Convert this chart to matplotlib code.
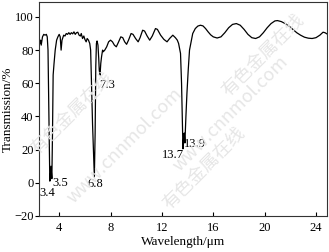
import numpy as np
import matplotlib.pyplot as plt

plt.rcParams['font.family'] = ['Liberation Serif', 'DejaVu Serif']
plt.rcParams['mathtext.fontset'] = 'stix'

# IR transmission spectrum
wavelength = [
    2.5, 2.55, 2.6, 2.7, 2.8, 2.9, 3.0, 3.07, 3.13, 3.2, 3.27, 3.3, 3.36, 3.43,
    3.48, 3.53, 3.6, 3.69, 3.8, 3.9, 4.0, 4.08, 4.15, 4.22, 4.35, 4.45, 4.55,
    4.65, 4.75, 4.85, 4.95, 5.05, 5.15, 5.25, 5.35, 5.45, 5.55, 5.65, 5.72,
    5.82, 5.92, 6.0, 6.1, 6.18, 6.28, 6.38, 6.45, 6.52, 6.6, 6.74, 6.8, 6.85,
    6.9, 6.95, 7.02, 7.08, 7.12, 7.18, 7.24, 7.3, 7.38, 7.43, 7.55, 7.7, 7.85,
    8.0, 8.15, 8.3, 8.45, 8.6, 8.8, 8.95, 9.1, 9.25, 9.4, 9.6, 9.75, 9.95,
    10.15, 10.3, 10.5, 10.65, 10.85, 11.05, 11.25, 11.5, 11.65, 11.9, 12.15,
    12.4, 12.6, 12.85, 13.05, 13.2, 13.3, 13.45, 13.53, 13.57, 13.64, 13.7,
    13.74, 13.79, 13.87, 13.95, 14.05, 14.15, 14.4, 14.6, 14.8, 15.0, 15.2,
    15.4, 15.6, 15.8, 16.0, 16.3, 16.6, 16.9, 17.2, 17.5, 17.8, 18.1, 18.4,
    18.7, 19.0, 19.3, 19.6, 19.9, 20.2, 20.5, 20.8, 21.0, 21.3, 21.6, 21.9,
    22.2, 22.5, 22.8, 23.1, 23.4, 23.7, 24.0, 24.3, 24.55, 24.7, 24.85,
]
transmission = [
    84, 86, 83, 88, 89.5, 89, 89.5, 88, 80, 40, 1, 1.5, 10, 2.5,
    30, 65, 72, 80, 86, 88, 89.5, 88, 80, 86, 89, 88.5, 90,
    89.5, 90.5, 89.5, 90.5, 89.8, 91, 89.5, 90.5, 90.8, 89, 88.5, 90,
    87, 88.5, 86.5, 85, 87, 86, 84, 80, 60, 35, 3.5, 30, 70,
    84, 85.5, 83, 75, 68, 64.8, 72, 76, 80, 79, 80, 82, 85,
    86, 85, 83, 82, 84.5, 88, 87.5, 85, 83.5, 86, 90, 89.5, 87,
    85, 87.5, 92, 91.5, 88.5, 86, 88.5, 93, 92.5, 89, 86.5,
    85, 87, 89, 87.5, 86, 84, 78, 60, 45, 20.5, 28,
    30, 24, 40, 54, 68, 80, 90, 93, 94.5, 95, 94.6,
    93, 91, 89.2, 88, 87.3, 88, 90.5, 93.5, 95.5, 96, 95, 92.5,
    89.5, 87.5, 87, 88, 90.5, 93.5, 96, 97.6, 97.8, 97.2, 96, 94.5,
    92.5, 90.5, 89, 87.8, 87.2, 87, 87.5, 89, 90.8, 90.5, 89.8,
]

# peak labels
peak_text = ['3.4', '3.5', '6.8', '7.3', '13.7', '13.9']
peak_x = [3.1, 4.1, 6.8, 7.7, 12.85, 14.6]
peak_y = [-6, 0, -1, 59, 17, 23.5]

xticks = [4, 8, 12, 16, 20, 24]
yticks = [-20, 0, 20, 40, 60, 80, 100]

fig = plt.figure(figsize=(3.29, 2.52), dpi=100)
ax = fig.add_axes([0.119, 0.143, 0.875, 0.849])

# faint watermark
wm = dict(color='#e6e6e6', rotation=45, fontsize=13, zorder=0,
          family=['Noto Sans CJK SC', 'DejaVu Sans'], ha='center', va='center')
fig.text(0.22, 0.55, '有色金属在线', **wm)
fig.text(0.80, 0.78, '有色金属在线', **wm)
fig.text(0.62, 0.33, '有色金属在线', **wm)
fig.text(0.38, 0.42, 'www.cnnmol.com', **wm)
fig.text(0.70, 0.55, 'www.cnnmol.com', **wm)

ax.patch.set_alpha(0)
ax.plot(wavelength, transmission, color='black', lw=0.9)

for t, x, y in zip(peak_text, peak_x, peak_y):
    ax.text(x, y, t, fontsize=9, ha='center', va='center')

ax.set_xlim(2.44, 24.86)
ax.set_ylim(-20, 109)
ax.set_xticks(xticks)
ax.set_yticks(yticks)
ax.tick_params(axis='x', direction='in', length=3, labelsize=9, pad=4)
ax.tick_params(axis='y', direction='out', length=3, labelsize=9, pad=1)
for s in ax.spines.values():
    s.set_color('#333333')
    s.set_linewidth(0.8)

ax.set_xlabel('Wavelength/μm', fontsize=9.5, labelpad=2)
ax.set_ylabel('Transmission/%', fontsize=9.5, labelpad=0)

fig.savefig('out.png', dpi=100)
